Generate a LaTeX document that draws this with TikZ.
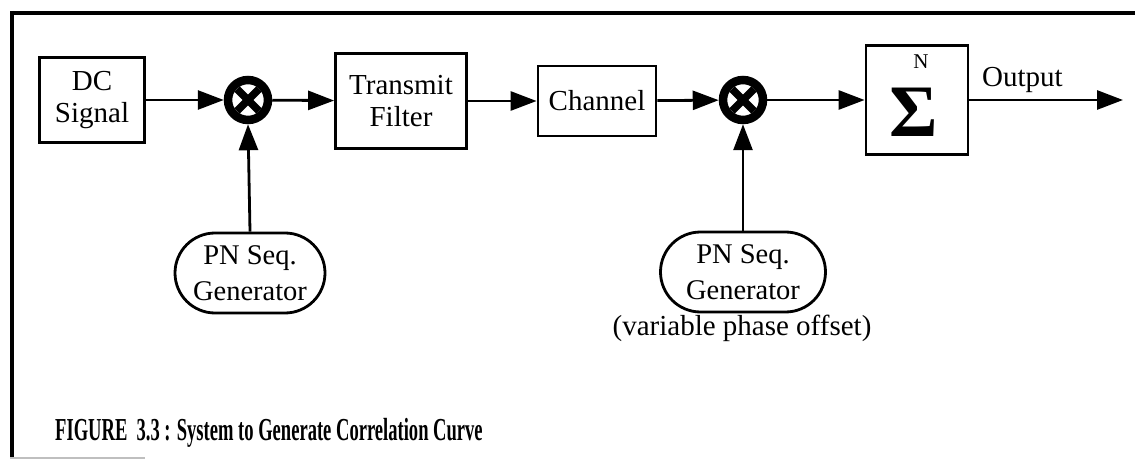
\documentclass[tikz,border=0pt]{standalone}
\usepackage{fontspec}
\setmainfont{Liberation Serif}
\usetikzlibrary{arrows.meta,shapes.misc}
\begin{document}
\begin{tikzpicture}[x=1pt,y=-1pt,
  blk/.style={draw,line width=2.8pt,inner sep=0pt,align=center,font=\fontsize{29}{32}\selectfont},
  gen/.style={draw,line width=2.8pt,rounded rectangle,inner sep=0pt,minimum height=80pt,align=center,font=\fontsize{28.5}{36}\selectfont},
  mixer/.style={circle,draw,line width=8.5pt,minimum size=40pt,inner sep=0pt},
  cross/.style={line width=7.5pt},
  conn/.style={line width=2.8pt,-{Triangle[length=26pt,width=19pt]}},
  lbl/.style={font=\fontsize{29}{30}\selectfont,inner sep=0pt},
  frame/.style={line width=4pt}]
\useasboundingbox (0,0) rectangle (1135,465);
% frame
\draw[frame] (10,13) -- (1135,13);
\draw[frame] (12,11) -- (12,458);
\draw[gray!50,line width=1.2pt] (10,458) -- (145,458);
% blocks
\node[blk,minimum width=105pt,minimum height=85pt] (dc) at (92,100) {DC\\Signal};
\node[mixer] (m1) at (248,100) {};
\node[blk,minimum width=131pt,minimum height=95pt] (tf) at (401,101) {Transmit\\Filter};
\node[blk,minimum width=118pt,minimum height=70pt] (ch) at (597,101) {Channel};
\node[mixer] (m2) at (743,100) {};
\node[blk,minimum width=102pt,minimum height=109pt] (sum) at (917,100) {};
\node[lbl,font=\fontsize{21}{22}\selectfont] (n) at (921,62) {N};
\node[inner sep=0pt,font=\fontsize{74}{74}\selectfont\bfseries] (sig) at (914,112) {Σ};
\coordinate (out) at (1123,100);
\node[lbl,anchor=south west] (outl) at (982,93) {Output};
\node[gen,minimum width=150pt] (pn1) at (250,273) {PN Seq.\\Generator};
\node[gen,minimum width=165pt] (pn2) at (743,272) {PN Seq.\\Generator};
\node[lbl] (var) at (742,328) {(variable phase offset)};
% mixer crosses
\foreach \m in {m1,m2}{
  \draw[cross] ([shift={(-11,-11)}]\m.center) -- ([shift={(11,11)}]\m.center);
  \draw[cross] ([shift={(-11,11)}]\m.center) -- ([shift={(11,-11)}]\m.center);
}
% connectors
\draw[conn] (dc) -- (m1);
\draw[conn] (m1) -- (tf);
\draw[conn] (tf) -- (ch);
\draw[conn] (ch) -- (m2);
\draw[conn] (m2) -- (sum);
\draw[conn] (sum.east) -- (out);
\draw[conn] (pn1.north) -- (m1.south);
\draw[conn] (pn2.north) -- (m2.south);
% caption
\node[anchor=west,inner sep=0pt] (cap) at (55,433) {\scalebox{0.58}[1]{\fontsize{32}{34}\selectfont\bfseries FIGURE\ \ 3.3 : System to Generate Correlation Curve}};
\end{tikzpicture}
\end{document}
